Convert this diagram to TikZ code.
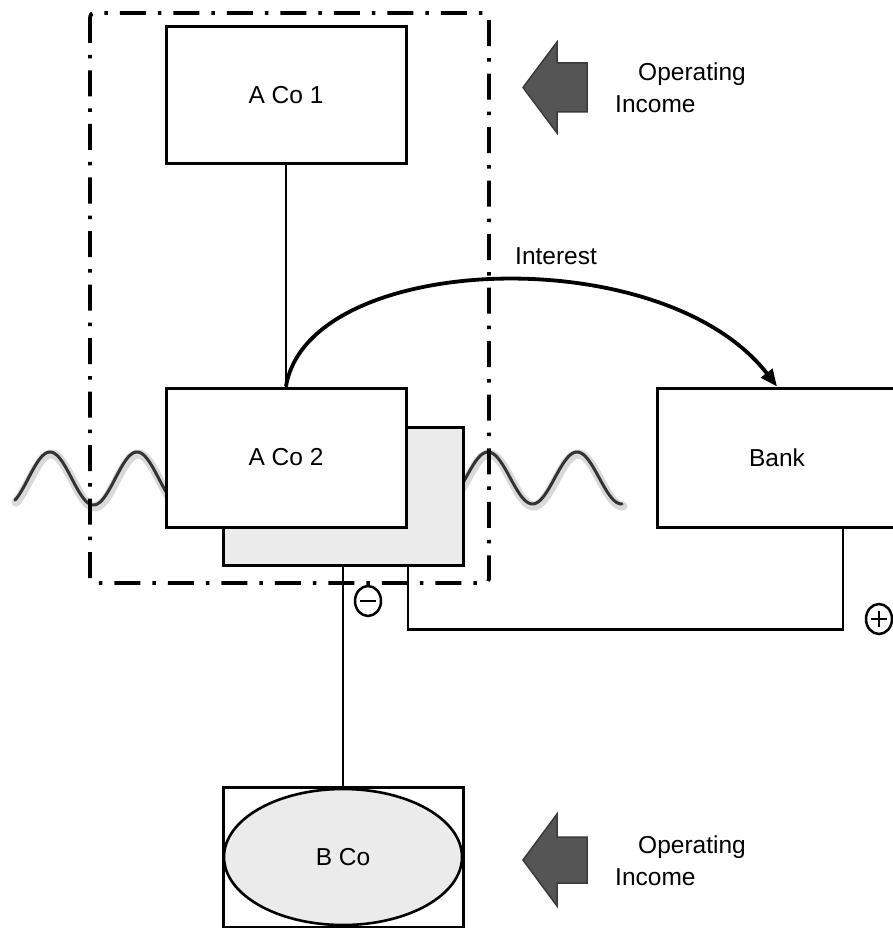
\documentclass[tikz,border=0pt]{standalone}
\usepackage{fontspec}
\setmainfont{Liberation Sans}
\usetikzlibrary{arrows.meta,shapes.geometric,calc}
\definecolor{shadegray}{HTML}{EBEBEB}
\definecolor{arrowgray}{HTML}{555555}
\definecolor{arrowedge}{HTML}{3A3A3A}
\definecolor{wavegray}{HTML}{333333}
\begin{document}
\begin{tikzpicture}[x=1pt,y=-1pt,
  txt/.style={font=\fontsize{24.5}{29}\selectfont, inner sep=0pt},
  box/.style={draw, line width=3pt, fill=white, minimum width=240pt, minimum height=139pt, inner sep=0pt, font=\fontsize{24.5}{29}\selectfont},
  conn/.style={line width=2.4pt},
  wave/.style={line width=3pt, color=wavegray, line cap=round, line join=round},
  waveglow/.style={line width=9pt, color=black!15, line cap=round, line join=round},
  fatarrow/.style={fill=arrowgray, draw=arrowedge, line width=1.5pt, line join=miter},
  dashdotbox/.style={line width=3.8pt, dash pattern=on 26pt off 12pt on 3.5pt off 12pt, rounded corners=4pt},
  sign/.style={draw, ellipse, line width=2.5pt, minimum width=26pt, minimum height=30pt, inner sep=0pt},
  interest/.style={line width=3.8pt, -{Triangle[length=17pt,width=14pt]}}
]
\useasboundingbox (0,0) rectangle (893,928);
\clip (0,0) rectangle (893,928);

% waves
\draw[waveglow] plot[domain=15:168, samples=90, smooth] (\x+1, {480.5 - 26.5*cos(4.13793*(\x-50))});
\draw[wave] plot[domain=15:168, samples=90, smooth] (\x, {478.5 - 26.5*cos(4.13793*(\x-50))});
\draw[waveglow] plot[domain=461:622, samples=90, smooth] (\x+1, {480 - 26*cos(4.04494*(\x-488))});
\draw[wave] plot[domain=461:622, samples=90, smooth] (\x, {478 - 26*cos(4.04494*(\x-488))});

% boxes
\node[box, fill=shadegray, minimum height=138pt] (shadow) at (343,496) {};
\node[box] (aco2) at (286,457.5) {A Co 2};
\node[box, minimum height=137pt] (aco1) at (286,95.5) {A Co 1};
\node[box] (bank) at (777,457.5) {Bank};
\node[box, minimum height=140pt] (bcobox) at (343,857) {};
\node[draw, ellipse, line width=2.6pt, fill=shadegray, minimum width=238pt, minimum height=136pt, inner sep=0pt, font=\fontsize{24.5}{29}\selectfont] (bco) at (343,857) {B Co};

% connectors
\draw[conn] (aco1.south) -- (aco2.north);
\draw[conn] (shadow.south) -- (bcobox.north);
\draw[conn] ([xshift=66pt]bank.south) -- ++(0,101) -| ([xshift=65pt]shadow.south);

% interest arrow
\draw[interest] (aco2.north) .. controls (308,252) and (662,238) .. (bank.north);
\node[txt, anchor=base west] (intlbl) at (515,264) {Interest};

% signs
\node[sign] (minus) at (368,601) {};
\draw[line width=2.5pt] ($(minus.center)+(-8,0)$) -- ($(minus.center)+(8,0)$);
\node[sign] (plus) at (879,619) {};
\draw[line width=2.5pt] ($(plus.center)+(-8,0)$) -- ($(plus.center)+(8,0)$);
\draw[line width=2.5pt] ($(plus.center)+(0,-8)$) -- ($(plus.center)+(0,8)$);

% dash-dot group boundary
\draw[dashdotbox] (90,13) rectangle (489,583);

% operating income arrows
\draw[fatarrow] (523,87.5) -- (557,42) -- (557,63) -- (587,63) -- (587,112) -- (557,112) -- (557,133) -- cycle;
\node[txt, anchor=base west] (op1) at (638,81) {Operating};
\node[txt, anchor=base west] (inc1) at (615,113) {Income};

\draw[fatarrow] (523,860) -- (557,814) -- (557,837) -- (587,837) -- (587,883) -- (557,883) -- (557,906) -- cycle;
\node[txt, anchor=base west] (op2) at (638,853) {Operating};
\node[txt, anchor=base west] (inc2) at (615,885) {Income};
\end{tikzpicture}
\end{document}
